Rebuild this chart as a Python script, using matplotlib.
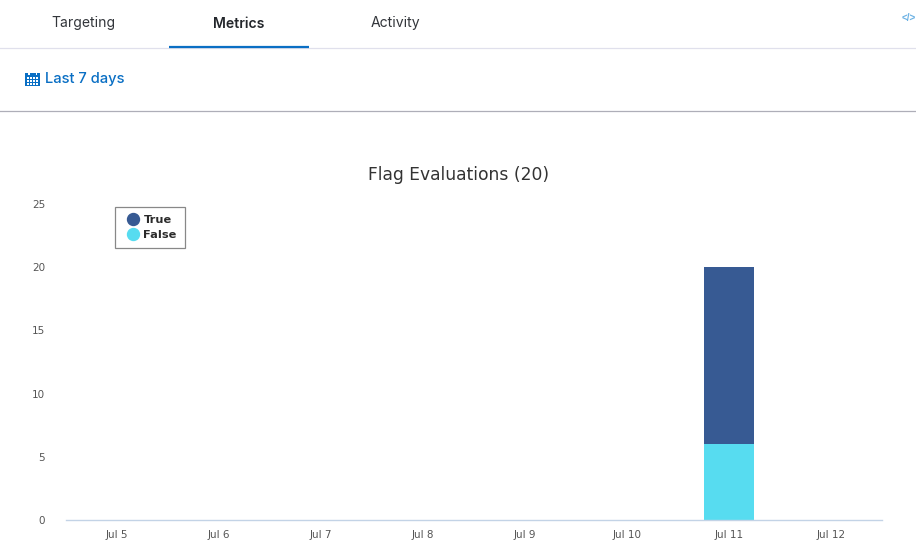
import numpy as np
import matplotlib
matplotlib.use('Agg')
import matplotlib.pyplot as plt
from matplotlib.lines import Line2D
from matplotlib.patches import Rectangle

days = ['Jul 5', 'Jul 6', 'Jul 7', 'Jul 8', 'Jul 9', 'Jul 10', 'Jul 11', 'Jul 12']
false_counts = [0, 0, 0, 0, 0, 0, 6, 0]
true_counts = [0, 0, 0, 0, 0, 0, 14, 0]
y_ticks = [0, 5, 10, 15, 20, 25]
tabs = ['Targeting', 'Metrics', 'Activity']
tab_x = [83, 239, 395]

W, H = 916, 559
BLUE = '#0a6fc4'
TRUE_COL = '#375a93'
FALSE_COL = '#57dcf0'

def fx(px):
    return px / W

def fy(py):
    return 1 - py / H

fig = plt.figure(figsize=(W / 100, H / 100), dpi=100)

# page header around the chart
for name, x in zip(tabs, tab_x):
    active = name == 'Metrics'
    fig.text(fx(x), fy(23.5), name, family='Inter', fontsize=10.1, ha='center', va='center',
             color='#23262b' if active else '#33363b', fontweight='semibold' if active else 'normal')
fig.add_artist(Line2D([0, 1], [fy(48)] * 2, color='#e0e0ec', lw=0.9))
fig.add_artist(Line2D([fx(169), fx(309)], [fy(47)] * 2, color=BLUE, lw=1.6, solid_capstyle='butt'))
fig.add_artist(Line2D([0, 1], [fy(111)] * 2, color='#aeaeb8', lw=0.9))
fig.text(fx(45), fy(79.5), 'Last 7 days', family='Inter', fontsize=10.6, ha='left', va='center',
         color=BLUE, fontweight='medium')
fig.text(fx(915.5), fy(18), '</>', family='Liberation Sans', fontsize=7.2, ha='right', va='center',
         color='#6cb2e4', fontweight='bold')

# calendar icon
fig.add_artist(Rectangle((fx(25), fy(86)), 15 / W, 13.5 / H, transform=fig.transFigure,
                         facecolor=BLUE, edgecolor='none'))
for nx in [28, 35.5]:
    fig.add_artist(Rectangle((fx(nx), fy(74.5)), 1.5 / W, 2.5 / H, transform=fig.transFigure,
                             facecolor='white', edgecolor='none'))
for col in range(4):
    for row in range(3):
        fig.add_artist(Rectangle((fx(26.5 + col * 3.1), fy(84.6 - row * 2.9)), 2.1 / W, 1.9 / H,
                                 transform=fig.transFigure, facecolor='white', edgecolor='none'))

# chart area
ax = fig.add_axes([fx(66), fy(520), 816 / W, 316 / H])
x = np.arange(len(days))
ax.bar(x, false_counts, width=0.49, color=FALSE_COL, label='False')
ax.bar(x, true_counts, width=0.49, bottom=false_counts, color=TRUE_COL, label='True')

ax.set_xlim(-0.5, 7.5)
ax.set_ylim(0, 25)
ax.set_xticks(x, days)
ax.set_yticks(y_ticks)
ax.tick_params(axis='both', length=0, labelsize=7.5, labelcolor='#555555')
ax.tick_params(axis='x', pad=7)
ax.tick_params(axis='y', pad=15)
for s in ['top', 'right', 'left']:
    ax.spines[s].set_visible(False)
ax.spines['bottom'].set_color('#c3d3e6')
ax.spines['bottom'].set_linewidth(1)

fig.text(fx(459), fy(175), 'Flag Evaluations (20)', family='DejaVu Sans', fontsize=12.35, ha='center',
         va='center', color='#333333')

handles = [Line2D([], [], marker='o', ls='none', ms=8.6, color=TRUE_COL, label='True'),
           Line2D([], [], marker='o', ls='none', ms=8.6, color=FALSE_COL, label='False')]
leg = ax.legend(handles=handles, loc='upper left', bbox_to_anchor=(fx(115), fy(207)),
                bbox_transform=fig.transFigure, fancybox=False, framealpha=1, edgecolor='#888888',
                borderaxespad=0, borderpad=0.72, labelspacing=0.42, handletextpad=0.08,
                handlelength=1.7, prop={'family': 'DejaVu Sans', 'size': 8.2, 'weight': 'bold'})
leg.get_frame().set_linewidth(0.9)
for t in leg.get_texts():
    t.set_color('#2b2b2b')

fig.savefig('out.png', dpi=100)
